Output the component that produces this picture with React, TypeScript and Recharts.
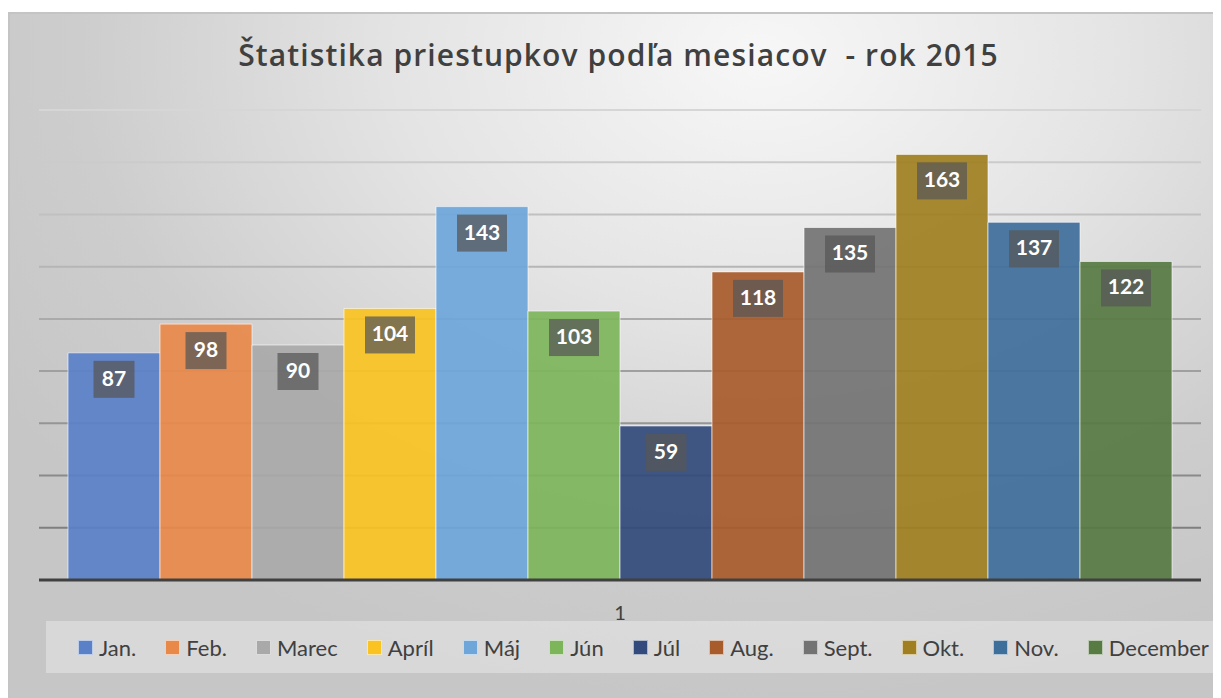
import { BarChart, Bar, XAxis, YAxis, CartesianGrid, Legend, LabelList } from "recharts";

const categories = ["1"];
const months = ["Jan.", "Feb.", "Marec", "Apríl", "Máj", "Jún", "Júl", "Aug.", "Sept.", "Okt.", "Nov.", "December"];
const values = [87, 98, 90, 104, 143, 103, 59, 118, 135, 163, 137, 122];
const colors = [
  "#5a80c8", "#e8894a", "#a9a9a9", "#fac322", "#6ea6da", "#7db55a",
  "#324b7c", "#a85b2b", "#737373", "#a07f20", "#3e6e9a", "#577b42",
];
const yTicks = [0, 20, 40, 60, 80, 100, 120, 140, 160, 180];

const data = categories.map((name) => {
  const row: Record<string, string | number> = { name };
  months.forEach((m, i) => (row[m] = values[i]));
  return row;
});

const FONT = "Lato, 'Open Sans', sans-serif";

function ValueBox(props: any) {
  const { x, y, width, value } = props;
  const txt = String(value);
  const w = txt.length > 2 ? 50 : 41;
  const h = 37;
  const cx = x + width / 2;
  const top = y + 8;
  return (
    <g>
      <rect x={cx - w / 2} y={top} width={w} height={h} fill="rgb(86,86,86)" fillOpacity={0.73} />
      <text
        x={cx}
        y={top + h / 2 + 1}
        textAnchor="middle"
        dominantBaseline="middle"
        fill="#fff"
        fontFamily={FONT}
        fontWeight={700}
        fontSize={21}
      >
        {txt}
      </text>
    </g>
  );
}

function LegendBox() {
  return (
    <div
      style={{
        display: "flex",
        justifyContent: "space-between",
        alignItems: "center",
        height: 52,
        paddingLeft: 32,
        paddingRight: 12,
        boxSizing: "border-box",
        background: "rgba(255,255,255,0.32)",
        fontFamily: FONT,
        fontSize: 22,
        color: "#404040",
      }}
    >
      {months.map((m, i) => (
        <div key={m} style={{ display: "flex", alignItems: "center" }}>
          <span
            style={{
              width: 13,
              height: 13,
              background: colors[i],
              border: "1px solid rgba(255,255,255,0.6)",
              marginRight: 6,
              display: "inline-block",
            }}
          />
          <span>{m}</span>
        </div>
      ))}
    </div>
  );
}

export default function App() {
  return (
    <div
      style={{
        position: "relative",
        marginTop: 4,
        width: 1213,
        height: 686,
        boxSizing: "border-box",
        borderTop: "2px solid #c4c4c4",
        borderLeft: "2px solid #c4c4c4",
        background:
          "radial-gradient(ellipse 75% 95% at 62% 6%, #f7f7f7 0%, #e4e4e4 40%, #cdcdcd 75%, #c6c6c6 100%)",
      }}
    >
      <div
        style={{
          position: "absolute",
          top: 20,
          left: 0,
          width: 1211,
          paddingLeft: 6,
          boxSizing: "border-box",
          textAlign: "center",
          fontFamily: "'Open Sans', Lato, sans-serif",
          fontWeight: 600,
          fontSize: 30,
          letterSpacing: 1.1,
          color: "#404040",
        }}
      >
        Štatistika priestupkov podľa mesiacov &nbsp;- rok 2015
      </div>
      <BarChart
        width={1211}
        height={684}
        data={data}
        margin={{ top: 96, right: 20, bottom: 88, left: 29 }}
        barCategoryGap={29}
        barGap={0}
      >
        <defs>
          <linearGradient id="gridFade" gradientUnits="userSpaceOnUse" x1="0" y1="96" x2="0" y2="566">
            <stop offset="0%" stopColor="#d6d6d6" />
            <stop offset="100%" stopColor="#747474" />
          </linearGradient>
        </defs>
        <CartesianGrid vertical={false} stroke="url(#gridFade)" strokeWidth={2} />
        <YAxis hide domain={[0, 180]} ticks={yTicks} />
        <XAxis
          dataKey="name"
          height={30}
          tickLine={false}
          axisLine={{ stroke: "#404040", strokeWidth: 3 }}
          tick={{ fontSize: 20, fill: "#404040", fontFamily: FONT }}
          tickMargin={20}
        />
        <Legend
          layout="horizontal"
          align="center"
          verticalAlign="middle"
          wrapperStyle={{ left: 36, top: 607, width: 1175 }}
          content={() => <LegendBox />}
        />
        {months.map((m, i) => (
          <Bar
            key={m}
            dataKey={m}
            fill={colors[i]}
            fillOpacity={0.92}
            stroke="#ffffff"
            strokeOpacity={0.6}
            strokeWidth={1}
            isAnimationActive={false}
          >
            <LabelList dataKey={m} content={<ValueBox />} />
          </Bar>
        ))}
      </BarChart>
    </div>
  );
}
